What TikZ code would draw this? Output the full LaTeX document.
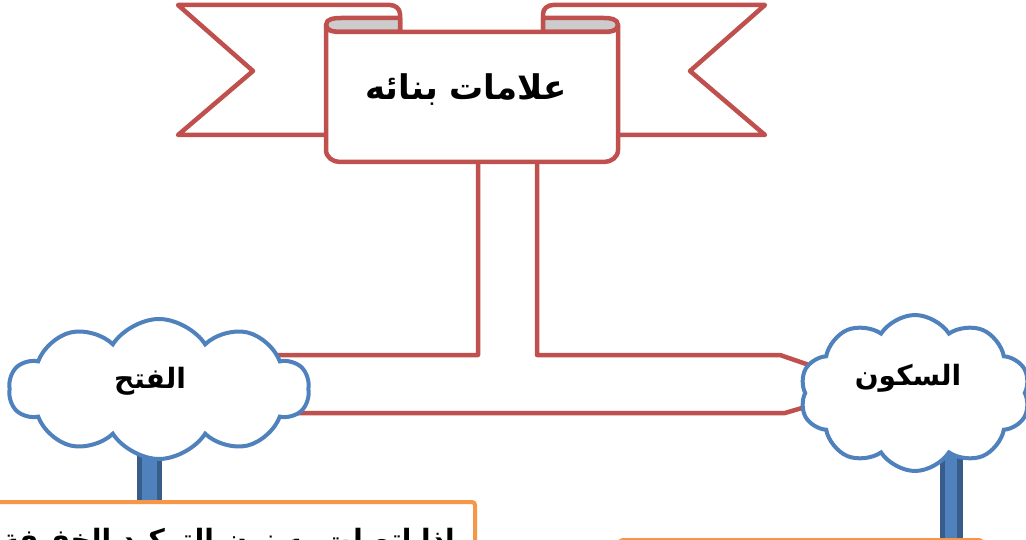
\documentclass[tikz,border=0pt]{standalone}
\usepackage{fontspec}
\newfontfamily\arabicfont[Script=Arabic]{DejaVu Sans}
\TeXXeTstate=1
\usetikzlibrary{shapes.symbols}
\definecolor{ribbon}{HTML}{C0504D}
\definecolor{roll}{HTML}{CCCCCC}
\definecolor{cloudline}{HTML}{4F81BD}
\definecolor{trunk}{HTML}{4F81BD}
\definecolor{trunkedge}{HTML}{385D8A}
\definecolor{frame}{HTML}{F79646}

\begin{document}
\begin{tikzpicture}[x=1pt,y=-1pt,
  rib/.style={draw=ribbon,line width=4.5pt,line join=round,fill=white},
  shaft/.style={draw=ribbon,line width=4.5pt,line join=round},
  puff/.style={cloud,cloud puffs=10,cloud puff arc=115,aspect=1.9,draw=cloudline,line width=4pt,fill=white,inner sep=0pt},
  word/.style={font=\arabicfont\bfseries\fontsize{28}{32}\selectfont,text=black,inner sep=0pt},
  note/.style={draw=frame,line width=4pt,rounded corners=3pt}]
\useasboundingbox (0,0) rectangle (1026,540);
\clip (0,0) rectangle (1026,540);

\coordinate (tip) at (873,387);

% clouds first as named nodes, redrawn later on top
\path (159,389) node[puff,minimum width=300,minimum height=140,draw=none,fill=none] (fath) {};
\path (915,393) node[puff,minimum width=230,minimum height=156,draw=none,fill=none] (sukun) {};

% the T shaped shaft, its heads hidden under the clouds
\draw[shaft] (478,150) -- (478,355) -- (fath.center |- 0,355) -- (fath.center |- 0,413)
  -- (785,413) -- (tip) -- (780,355) -- (537,355) -- (537,150);

% ribbon tails
\draw[rib] (327,135) -- (178,135) -- (253,71) -- (178,5) -- (390,5) to[out=0,in=90] (400,14) -- (400,32);
\draw[rib] (618,135) -- (765,135) -- (690,71) -- (765,5) -- (553,5) to[out=180,in=90] (543,14) -- (543,32);
% rolled ends
\draw[rib,fill=roll] (326,25) to[out=90,in=180] (341,18) -- (400,18) -- (400,32) -- (341,32) to[out=180,in=-90] cycle;
\draw[rib,fill=roll] (618,25) to[out=90,in=0] (604,18) -- (543,18) -- (543,32) -- (604,32) to[out=0,in=-90] cycle;
% front panel
\draw[rib] (326,25) -- (326,150) to[out=-90,in=180] (340,162) -- (604,162) to[out=0,in=-90] (618,150)
  -- (618,25) to[out=-90,in=0] (604,32) -- (341,32) to[out=180,in=-90] cycle;
\node[word,font=\arabicfont\bfseries\fontsize{34}{38}\selectfont] (title) at (466,90) {\beginR علامات بنائه\endR};

% trunks
\fill[trunk] (137,440) rectangle (162,502);
\fill[trunkedge] (137,440) rectangle (142,502);
\fill[trunkedge] (157,440) rectangle (162,502);
\fill[trunk] (940,450) rectangle (963,545);
\fill[trunkedge] (940,450) rectangle (945,545);
\fill[trunkedge] (957,450) rectangle (963,545);

% clouds
\node[puff,minimum width=300,minimum height=140] at (fath) {};
\node[puff,minimum width=230,minimum height=156] at (sukun) {};
\node[word] (fathword) at (150,381) {\beginR الفتح\endR};
\node[word] (sukunword) at (908,378) {\beginR السكون\endR};

% boxes below
\draw[note] (-10,502) -- (475,502) -- (475,580);
\draw[note] (620,540) rectangle (982,600);
\node[word,anchor=north east] (fathnote) at (455,528) {\beginR إذا اتصلت به نون التوكيد الخفيفة\endR};
\end{tikzpicture}
\end{document}
